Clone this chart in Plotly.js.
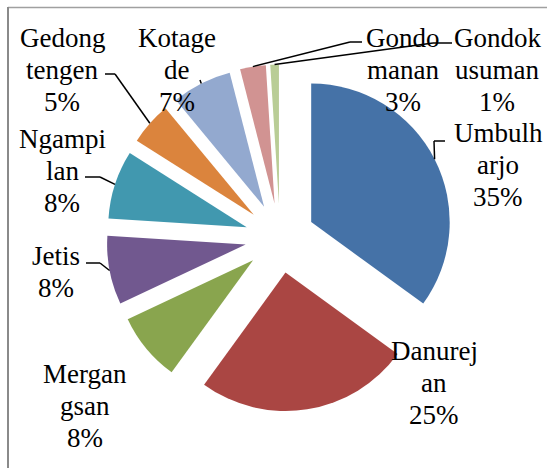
<!DOCTYPE html>
<html>
<head>
<meta charset="utf-8">
<script src="https://cdn.plot.ly/plotly-3.0.1.min.js"></script>
<style>html,body{margin:0;padding:0;background:#fff;}#chart{width:547px;height:468px;}</style>
</head>
<body>
<div id="chart"></div>
<script>
// ---- data ----
const labels = ["Umbulharjo","Danurejan","Mergangsan","Jetis","Ngampilan","Gedongtengen","Kotagede","Gondomanan","Gondokusuman"];
const values = [35, 25, 8, 8, 8, 5, 7, 3, 1];
const labelLines = [["Umbulh","arjo"],["Danurej","an"],["Mergan","gsan"],["Jetis"],["Ngampi","lan"],["Gedong","tengen"],["Kotage","de"],["Gondo","manan"],["Gondok","usuman"]];
const colors = ["#4572A7","#AA4643","#89A54E","#71588F","#4198AF","#DB843D","#93A9CF","#D19392","#B9CD96"];

// ---- layout constants (pixels) ----
const W = 547, H = 468;
const CX = 280, CY = 238, R = 138.5, PULL = 0.2527;
const FONT_FAMILY = "Liberation Serif";
const FONT_SIZE = 27;
const LINE_H = 32;
// label anchor: centre x, first-line baseline
const labelPos = [[498,142],[434,360],[85,383],[56,265],[62,148],[62,47],[177,47],[403,47],[497,47]];
// leader polylines after the slice arc midpoint (null = no leader)
const leaderPts = [
  [[434,141],[445,141]],
  null, null,
  [[100,263],[86,263]],
  [[100,177],[85,177]],
  [[115,74],[105,74]],
  [[200,80]],
  [[350,42],[362,42]],
  [[433,43],[452,43]]
];

const px = x => x / W;
const py = y => 1 - y / H;

const total = values.reduce((a,b)=>a+b,0);
const annotations = [];
const shapes = [];

labels.forEach((lab, i) => {
  const pct = Math.round(values[i] / total * 100) + "%";
  const lines = labelLines[i].concat([pct]);
  lines.forEach((t, k) => {
    annotations.push({
      text: t, xref: "paper", yref: "paper",
      x: px(labelPos[i][0]), y: py(labelPos[i][1] + k * LINE_H - 9),
      xanchor: "center", yanchor: "middle", showarrow: false,
      font: {family: FONT_FAMILY, size: FONT_SIZE, color: "#000000"}
    });
  });
});

// arc midpoints from the pie geometry
let cum = 0;
values.forEach((v, i) => {
  const a0 = cum / total * 2 * Math.PI;
  cum += v;
  const a1 = cum / total * 2 * Math.PI;
  const am = (a0 + a1) / 2;
  const dx = Math.sin(am), dy = -Math.cos(am);
  const ax = CX + PULL * R * dx + R * dx;
  const ay = CY + PULL * R * dy + R * dy;
  if (!leaderPts[i]) return;
  let prev = [ax, ay];
  leaderPts[i].forEach(p => {
    shapes.push({type: "line", xref: "paper", yref: "paper",
      x0: px(prev[0]), y0: py(prev[1]), x1: px(p[0]), y1: py(p[1]),
      line: {color: "#000", width: 1.5}});
    prev = p;
  });
});

// frame
shapes.push({type: "line", xref: "paper", yref: "paper", x0: px(8), y0: py(7.5), x1: px(560), y1: py(7.5), line: {color: "#a0a0a0", width: 1.3}});
shapes.push({type: "line", xref: "paper", yref: "paper", x0: px(8), y0: py(7), x1: px(8), y1: py(480), line: {color: "#8a8a8a", width: 2}});

const trace = {
  type: "pie",
  labels: labels,
  values: values,
  sort: false,
  direction: "clockwise",
  rotation: 0,
  pull: values.map(() => PULL),
  marker: {colors: colors, line: {width: 0}},
  textinfo: "none",
  hoverinfo: "label+percent",
  showlegend: false,
  domain: {x: [0.1947, 0.8291], y: [0.0962, 0.8867]}
};

const layout = {
  width: W, height: H,
  margin: {l: 0, r: 0, t: 0, b: 0},
  paper_bgcolor: "#fff",
  showlegend: false,
  font: {family: FONT_FAMILY, size: FONT_SIZE, color: "#000000"},
  annotations: annotations,
  shapes: shapes
};

Plotly.newPlot("chart", [trace], layout, {displayModeBar: false});
</script>
</body>
</html>
